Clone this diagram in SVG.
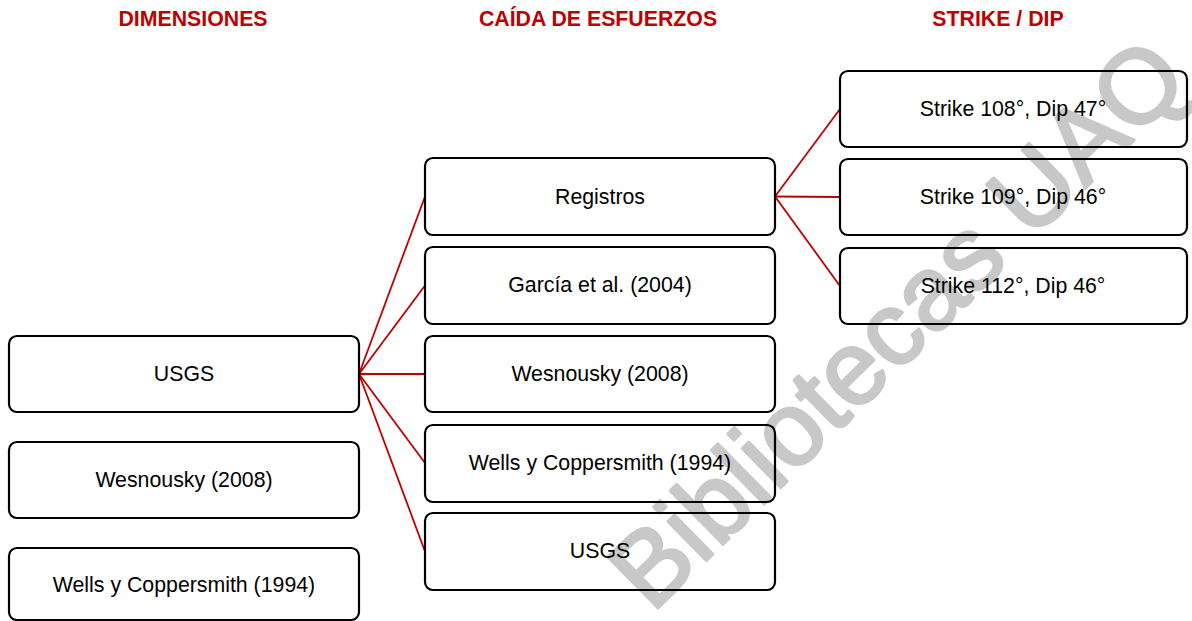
<svg xmlns="http://www.w3.org/2000/svg" width="1192" height="621" viewBox="0 0 1192 621">
<style>
.box{fill:#fff;stroke:#000;stroke-width:2.2}
.lbl{font-family:"Liberation Sans",Arial,sans-serif;font-size:21.3px;fill:#000;text-anchor:middle}
.hdr{font-family:"Liberation Sans",Arial,sans-serif;font-size:21.3px;font-weight:bold;fill:#c00000;text-anchor:middle}
.con line{stroke:#c00000;stroke-width:1.8}
.wm{font-family:"Liberation Sans",Arial,sans-serif;font-size:104px;fill:#000;stroke:#000;stroke-width:3;stroke-linejoin:round}
</style>
<rect width="1192" height="621" fill="#fff"/>
<g id="headers">
<text class="hdr" x="193" y="26">DIMENSIONES</text>
<text class="hdr" x="598" y="26">CAÍDA DE ESFUERZOS</text>
<text class="hdr" x="998" y="26">STRIKE / DIP</text>
</g>
<g id="connectors" class="con">
<line x1="359" y1="374" x2="425" y2="196.5"/>
<line x1="359" y1="374" x2="425" y2="285.5"/>
<line x1="359" y1="374" x2="425" y2="374"/>
<line x1="359" y1="374" x2="425" y2="463"/>
<line x1="359" y1="374" x2="425" y2="551.5"/>
<line x1="775" y1="196.5" x2="840" y2="109"/>
<line x1="775" y1="196.5" x2="840" y2="197"/>
<line x1="775" y1="196.5" x2="840" y2="286"/>
</g>
<g id="n-usgs-dim"><rect class="box" x="9" y="336" width="350" height="76" rx="8"/><text class="lbl" x="184" y="381">USGS</text></g>
<g id="n-wes-dim"><rect class="box" x="9" y="442" width="350" height="76" rx="8"/><text class="lbl" x="184" y="487">Wesnousky (2008)</text></g>
<g id="n-wells-dim"><rect class="box" x="9" y="548" width="350" height="72" rx="8"/><text class="lbl" x="184" y="592">Wells y Coppersmith (1994)</text></g>
<g id="n-registros"><rect class="box" x="425" y="158" width="350" height="77" rx="8"/><text class="lbl" x="600" y="204">Registros</text></g>
<g id="n-garcia"><rect class="box" x="425" y="247" width="350" height="77" rx="8"/><text class="lbl" x="600" y="292">García et al. (2004)</text></g>
<g id="n-wes-cai"><rect class="box" x="425" y="336" width="350" height="76" rx="8"/><text class="lbl" x="600" y="381">Wesnousky (2008)</text></g>
<g id="n-wells-cai"><rect class="box" x="425" y="425" width="350" height="77" rx="8"/><text class="lbl" x="600" y="470">Wells y Coppersmith (1994)</text></g>
<g id="n-usgs-cai"><rect class="box" x="425" y="513" width="350" height="77" rx="8"/><text class="lbl" x="600" y="558">USGS</text></g>
<g id="n-s108"><rect class="box" x="840" y="71" width="347" height="76" rx="8"/><text class="lbl" x="1013" y="116">Strike 108°, Dip 47°</text></g>
<g id="n-s109"><rect class="box" x="840" y="159" width="347" height="76" rx="8"/><text class="lbl" x="1013" y="204">Strike 109°, Dip 46°</text></g>
<g id="n-s112"><rect class="box" x="840" y="248" width="347" height="76" rx="8"/><text class="lbl" x="1013" y="293">Strike 112°, Dip 46°</text></g>
<g id="watermark" opacity="0.21"><text class="wm" x="0" y="0" transform="translate(652,614) rotate(-44.5)">Bibliotecas UAQ</text></g>
</svg>
